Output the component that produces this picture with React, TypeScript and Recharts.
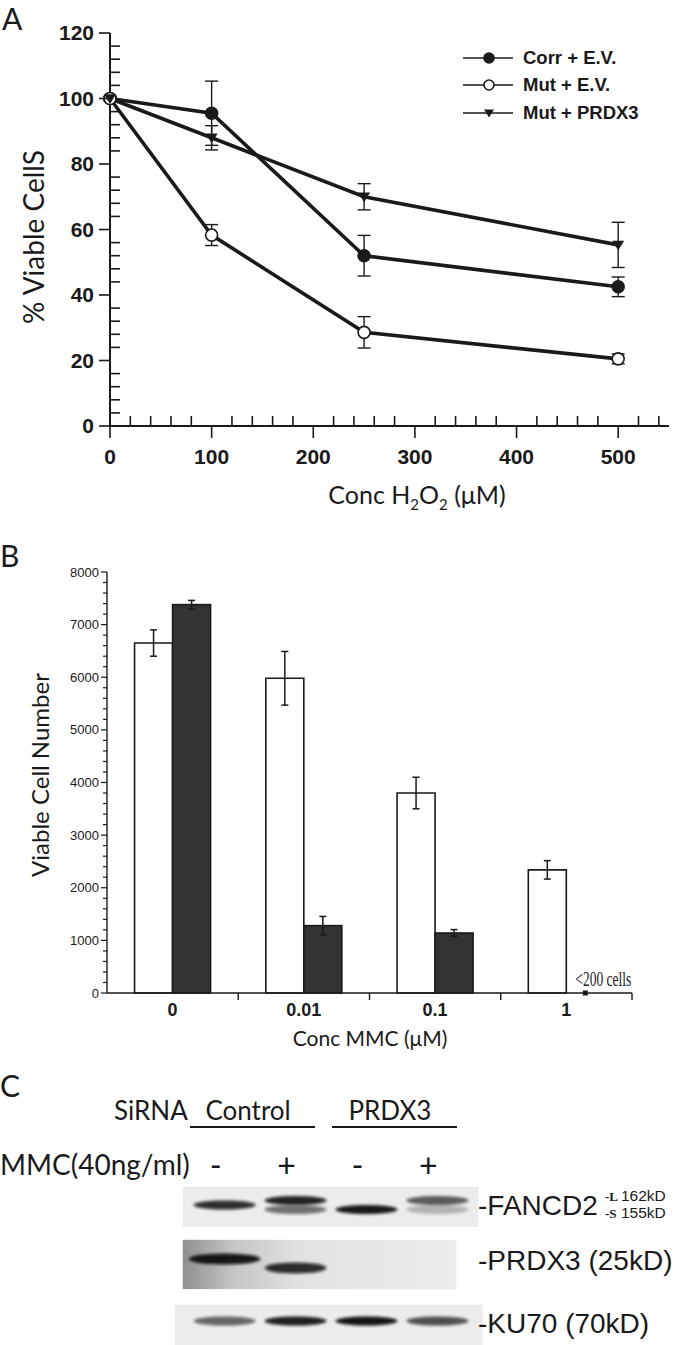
import React from "react";
import {
  Bar,
  BarChart,
  ErrorBar,
  Legend,
  Line,
  LineChart,
  ReferenceArea,
  Scatter,
  ScatterChart,
  XAxis,
  YAxis,
} from "recharts";

// ---------- panel A : H2O2 survival ----------
const h2o2Conc = [0, 100, 250, 500];
const corrEV = [100, 95.5, 52, 42.5];
const corrEVErr = [0.6, 9.8, 6.2, 3];
const mutEV = [100, 58.3, 28.6, 20.5];
const mutEVErr = [0.6, 3.2, 4.8, 1.5];
const mutPRDX3 = [100, 88, 70, 55.3];
const mutPRDX3Err = [0.6, 3.7, 4, 6.9];
const xTicksA = Array.from({ length: 28 }, (_, i) => i * 20);
const yTicksA = Array.from({ length: 31 }, (_, i) => i * 4);

// ---------- panel B : MMC survival ----------
const mmcDoses = ["0", "0.01", "0.1", "1"];
const openBars = [6650, 5980, 3800, 2340];
const openErr = [250, 510, 300, 175];
const filledBars = [7380, 1280, 1140, 0];
const filledErr = [80, 175, 65, 0];
const yTicksB = Array.from({ length: 41 }, (_, i) => i * 200);

// ---------- panel C : western blot ----------
const lanes = [0, 1, 2, 3];
const mmcSigns = ["-", "+", "-", "+"];
const sirnaGroups = ["Control", "PRDX3"];
const proteins = ["-FANCD2", "-PRDX3 (25kD)", "-KU70 (70kD)"];
const bandLane = [0, 1, 1, 2, 3, 3, 0, 1, 0, 1, 2, 3];
const bandProtein = [0, 0, 0, 0, 0, 0, 1, 1, 2, 2, 2, 2];
const bandIsoform = ["M", "L", "S", "S", "L", "S", "U", "D", "M", "M", "M", "M"];
const bandIntensity = [0.85, 0.9, 0.55, 0.95, 0.65, 0.25, 0.95, 0.85, 0.6, 0.92, 0.97, 0.7];

const INK = "#1a1a1a";
const SANS = "'Liberation Sans', Arial, sans-serif";
const HUM = "Lato, 'Open Sans', sans-serif";

const dataA = h2o2Conc.map((c, i) => ({
  conc: c,
  corr: corrEV[i],
  corrErr: corrEVErr[i],
  mut: mutEV[i],
  mutErr: mutEVErr[i],
  prdx: mutPRDX3[i],
  prdxErr: mutPRDX3Err[i],
}));

const seriesA = [
  { key: "corr", name: "Corr + E.V.", marker: "filled" },
  { key: "mut", name: "Mut + E.V.", marker: "open" },
  { key: "prdx", name: "Mut + PRDX3", marker: "tri" },
];

const dataB = mmcDoses.map((d, i) => ({
  dose: d,
  open: openBars[i],
  openErr: openErr[i],
  filled: filledBars[i],
  filledErr: filledErr[i],
}));

const dataC = bandLane.map((l, i) => ({
  lane: l,
  protein: bandProtein[i],
  isoform: bandIsoform[i],
  intensity: bandIntensity[i],
}));

function Marker({ cx, cy, kind, size = 6 }: any) {
  if (cx == null || cy == null) return null;
  if (kind === "tri") {
    return (
      <path
        d={`M${cx - size},${cy - size * 0.7} L${cx + size},${cy - size * 0.7} L${cx},${cy + size * 0.9} Z`}
        fill={INK}
      />
    );
  }
  return (
    <circle
      cx={cx}
      cy={cy}
      r={size}
      fill={kind === "open" ? "#fff" : INK}
      stroke={INK}
      strokeWidth={1.6}
    />
  );
}

const TickYA = ({ x, y, payload }: any) => {
  const major = payload.value % 20 === 0;
  return (
    <g>
      {major ? (
        <line x1={x - 11} x2={x} y1={y} y2={y} stroke={INK} strokeWidth={1.6} />
      ) : (
        <line x1={x} x2={x + 10} y1={y} y2={y} stroke={INK} strokeWidth={1.6} />
      )}
      {major && (
        <text x={x - 16} y={y} dy={7} textAnchor="end" fontSize={21} fontWeight="bold" fontFamily={SANS} fill={INK}>
          {payload.value}
        </text>
      )}
    </g>
  );
};

const TickXA = ({ x, y, payload }: any) => {
  const major = payload.value % 100 === 0;
  return (
    <g>
      {major ? (
        <line x1={x} x2={x} y1={y} y2={y + 12} stroke={INK} strokeWidth={1.6} />
      ) : (
        <line x1={x} x2={x} y1={y - 10} y2={y} stroke={INK} strokeWidth={1.6} />
      )}
      {major && (
        <text x={x} y={y + 38} textAnchor="middle" fontSize={21} fontWeight="bold" fontFamily={SANS} fill={INK}>
          {payload.value}
        </text>
      )}
    </g>
  );
};

const LegendA = () => (
  <div style={{ fontFamily: SANS, fontWeight: "bold", fontSize: 18.5, color: INK }}>
    {seriesA.map((s) => (
      <div key={s.key} style={{ display: "flex", alignItems: "center", height: 27.5 }}>
        <svg width={50} height={16} style={{ marginRight: 10 }}>
          <line x1={0} x2={50} y1={8} y2={8} stroke={INK} strokeWidth={1.6} />
          <Marker cx={26} cy={8} kind={s.marker} size={5} />
        </svg>
        <span>{s.name}</span>
      </div>
    ))}
  </div>
);

const PLOT_B_LEFT = 107;
const PLOT_B_RIGHT = 632;
const bandB = (PLOT_B_RIGHT - PLOT_B_LEFT) / mmcDoses.length;

const TickYB = ({ x, y, payload }: any) => {
  const major = payload.value % 1000 === 0;
  return (
    <g>
      <line x1={x - (major ? 6 : 4)} x2={x} y1={y} y2={y} stroke={INK} strokeWidth={1.2} />
      {major && (
        <text x={x - 8} y={y} dy={4.5} textAnchor="end" fontSize={13} fontFamily={SANS} fill={INK}>
          {payload.value}
        </text>
      )}
    </g>
  );
};

const TickXB = ({ x, y, payload }: any) => (
  <g>
    <line x1={x + bandB / 2} x2={x + bandB / 2} y1={y} y2={y + 7} stroke={INK} strokeWidth={1.4} />
    <text x={x} y={y + 23} textAnchor="middle" fontSize={18} fontWeight="bold" fontFamily={SANS} fill={INK}>
      {payload.value}
    </text>
  </g>
);

// filled bar; a zero value is drawn as the "<200 cells" dot with its note
const FilledBar = (props: any) => {
  const { x, y, width, height, value } = props;
  const v = Array.isArray(value) ? value[1] - value[0] : value;
  if (!v) {
    const cx = x + width / 2;
    const base = y + (height || 0);
    return (
      <g>
        <rect x={cx - 2.5} y={base - 2.5} width={5} height={5} fill={INK} />
        <text
          x={cx - 10}
          y={base - 7}
          fontSize={22}
          fontFamily="'Liberation Serif', serif"
          textLength={56}
          lengthAdjust="spacingAndGlyphs"
          fill={INK}
        >
          {"<200 cells"}
        </text>
      </g>
    );
  }
  return <rect x={x} y={y} width={width} height={height} fill="#333" stroke={INK} strokeWidth={1.6} />;
};

const ProteinTick = ({ x, y, payload }: any) => {
  const i = payload.value;
  const dy = i === 0 ? 10 : i === 1 ? 7 : 12;
  return (
    <g fontFamily={SANS} fill={INK}>
      <text x={x - 9} y={y + dy} fontSize={28}>
        {proteins[i]}
      </text>
      {i === 0 && (
        <>
          <text x={x + 118} y={y - 4} fontSize={13} fontWeight="bold" fontFamily="'Liberation Serif', serif">
            -L
          </text>
          <text x={x + 118} y={y + 13} fontSize={13} fontWeight="bold" fontFamily="'Liberation Serif', serif">
            -S
          </text>
          <text x={x + 134} y={y - 4} fontSize={15.5}>
            162kD
          </text>
          <text x={x + 134} y={y + 13} fontSize={15.5}>
            155kD
          </text>
        </>
      )}
    </g>
  );
};

const BandShape = (props: any) => {
  const { cx, cy, payload } = props;
  const shift: Record<string, number> = { L: -4.5, S: 4.5, M: 0, U: -4, D: 5 };
  const rx = payload.protein === 1 && payload.lane === 0 ? 36 : 31;
  const ry = payload.protein === 1 ? 5.5 : 4.5;
  return (
    <ellipse
      cx={cx}
      cy={cy + shift[payload.isoform]}
      rx={rx}
      ry={ry}
      fill="#0b0b0b"
      opacity={payload.intensity}
      filter="url(#bandBlur)"
    />
  );
};

const BlotBox = (props: any) => {
  const { x, y, width, height, fill } = props;
  return (
    <g>
      <defs>
        <filter id="bandBlur" x="-30%" y="-150%" width="160%" height="400%">
          <feGaussianBlur stdDeviation={1.7} />
        </filter>
        <linearGradient id="prdxBg" x1="0" x2="1" y1="0" y2="0">
          <stop offset="0" stopColor="#8f8f8f" />
          <stop offset="0.18" stopColor="#c4c4c4" />
          <stop offset="0.42" stopColor="#e2e2e2" />
          <stop offset="1" stopColor="#ececec" />
        </linearGradient>
      </defs>
      <rect x={x} y={y} width={width} height={height} fill={fill} />
    </g>
  );
};

// blot chart geometry (lane axis)
const C_LEFT = 175;
const C_PLOT_W = 312;
const C_DOMAIN: [number, number] = [-0.7, 3.7];
const laneX = (l: number) => C_LEFT + ((l - C_DOMAIN[0]) / (C_DOMAIN[1] - C_DOMAIN[0])) * C_PLOT_W;

const textStyle = (left: number, top: number, size: number, family = HUM): React.CSSProperties => ({
  position: "absolute",
  left,
  top,
  fontSize: size,
  fontFamily: family,
  lineHeight: 1,
  color: INK,
  whiteSpace: "nowrap",
});

export default function App() {
  return (
    <div style={{ position: "absolute", left: 0, top: 0, width: 700, height: 1345, background: "#fff", overflow: "hidden" }}>
      {/* Panel A */}
      <div style={textStyle(2, 3, 30)}>A</div>
      <div style={{ position: "absolute", left: 0, top: 0 }}>
        <LineChart width={700} height={500} data={dataA} margin={{ top: 33, right: 31, bottom: 44, left: 50 }}>
          <XAxis
            dataKey="conc"
            type="number"
            domain={[0, 550]}
            ticks={xTicksA}
            interval={0}
            height={30}
            tickSize={0}
            tickMargin={0}
            tickLine={false}
            tick={<TickXA />}
            axisLine={{ stroke: INK, strokeWidth: 2 }}
          />
          <YAxis
            type="number"
            domain={[0, 120]}
            ticks={yTicksA}
            interval={0}
            width={60}
            tickSize={0}
            tickMargin={0}
            tickLine={false}
            tick={<TickYA />}
            axisLine={{ stroke: INK, strokeWidth: 2 }}
          />
          <Legend
            layout="vertical"
            align="center"
            verticalAlign="middle"
            content={<LegendA />}
            wrapperStyle={{ left: 463, top: 44, width: 230 }}
          />
          {seriesA.map((s) => (
            <Line
              key={s.key}
              dataKey={s.key}
              name={s.name}
              stroke={INK}
              strokeWidth={3.6}
              isAnimationActive={false}
              dot={(p: any) => <Marker key={`${s.key}-${p.index}`} cx={p.cx} cy={p.cy} kind={s.marker} />}
              activeDot={false}
            >
              <ErrorBar dataKey={`${s.key}Err`} width={6.5} stroke={INK} strokeWidth={1.4} direction="y" />
            </Line>
          ))}
        </LineChart>
      </div>
      <div
        style={{
          ...textStyle(33, 237, 28),
          transform: "translate(-50%, -50%) rotate(-90deg)",
        }}
      >
        % Viable CellS
      </div>
      <div style={{ ...textStyle(417, 497, 25), transform: "translate(-50%, -50%)" }}>
        Conc H<sub style={{ fontSize: 15 }}>2</sub>O<sub style={{ fontSize: 15 }}>2</sub> (μM)
      </div>

      {/* Panel B */}
      <div style={textStyle(0, 540, 30)}>B</div>
      <div style={{ position: "absolute", left: 0, top: 540 }}>
        <BarChart
          width={700}
          height={520}
          data={dataB}
          margin={{ top: 32, right: 700 - PLOT_B_RIGHT, bottom: 37, left: PLOT_B_LEFT - 60 }}
          barCategoryGap="21%"
          barGap={0}
        >
          <XAxis
            dataKey="dose"
            height={30}
            tickSize={0}
            tickMargin={0}
            tickLine={false}
            interval={0}
            tick={<TickXB />}
            axisLine={{ stroke: INK, strokeWidth: 1.6 }}
          />
          <YAxis
            type="number"
            domain={[0, 8000]}
            ticks={yTicksB}
            interval={0}
            width={60}
            tickSize={0}
            tickMargin={0}
            tickLine={false}
            tick={<TickYB />}
            axisLine={{ stroke: INK, strokeWidth: 1.4 }}
          />
          <Bar dataKey="open" fill="#fff" stroke={INK} strokeWidth={1.6} isAnimationActive={false}>
            <ErrorBar dataKey="openErr" width={3.5} stroke={INK} strokeWidth={1.5} />
          </Bar>
          <Bar dataKey="filled" fill="#333" stroke={INK} strokeWidth={1.6} shape={<FilledBar />} isAnimationActive={false}>
            <ErrorBar dataKey="filledErr" width={3.5} stroke={INK} strokeWidth={1.5} />
          </Bar>
        </BarChart>
      </div>
      <div
        style={{
          ...textStyle(40, 775, 24),
          transform: "translate(-50%, -50%) rotate(-90deg)",
        }}
      >
        Viable Cell Number
      </div>
      <div style={{ ...textStyle(370, 1037, 21), transform: "translate(-50%, -50%)" }}>Conc MMC (μM)</div>

      {/* Panel C */}
      <div style={textStyle(0, 1070, 30)}>C</div>
      <div style={textStyle(114, 1097, 26)}>SiRNA</div>
      {sirnaGroups.map((g, i) => {
        const mid = (laneX(lanes[2 * i]) + laneX(lanes[2 * i + 1])) / 2;
        return (
          <React.Fragment key={g}>
            <div style={{ ...textStyle(mid - 12, 1110, 26), transform: "translate(-50%, -50%)" }}>{g}</div>
            <div style={{ position: "absolute", left: mid - 70, top: 1126, width: 125, height: 2, background: INK }} />
          </React.Fragment>
        );
      })}
      <div style={textStyle(0, 1150, 28)}>MMC(40ng/ml)</div>
      {mmcSigns.map((s, i) => (
        <div key={i} style={{ ...textStyle(laneX(lanes[i]) - 9, 1165, 32), transform: "translate(-50%, -50%)" }}>
          {s}
        </div>
      ))}
      <div style={{ position: "absolute", left: 0, top: 1170 }}>
        <ScatterChart width={700} height={180} margin={{ top: 6, right: 0, bottom: 0, left: C_LEFT }}>
          <XAxis dataKey="lane" type="number" domain={C_DOMAIN} hide />
          <YAxis
            dataKey="protein"
            type="number"
            orientation="right"
            reversed
            domain={[-0.5, 2.5]}
            ticks={[0, 1, 2]}
            interval={0}
            width={700 - C_LEFT - C_PLOT_W}
            tickSize={0}
            tickMargin={0}
            tickLine={false}
            axisLine={false}
            tick={<ProteinTick />}
          />
          <ReferenceArea x1={-0.59} x2={3.58} y1={-0.31} y2={0.38} fill="#ececec" fillOpacity={1} shape={<BlotBox />} />
          <ReferenceArea x1={-0.59} x2={3.27} y1={0.6} y2={1.45} fill="url(#prdxBg)" fillOpacity={1} shape={<BlotBox />} />
          <ReferenceArea x1={-0.7} x2={3.64} y1={1.72} y2={2.5} fill="#ececec" fillOpacity={1} shape={<BlotBox />} />
          <Scatter data={dataC} dataKey="protein" shape={<BandShape />} isAnimationActive={false} />
        </ScatterChart>
      </div>
    </div>
  );
}
